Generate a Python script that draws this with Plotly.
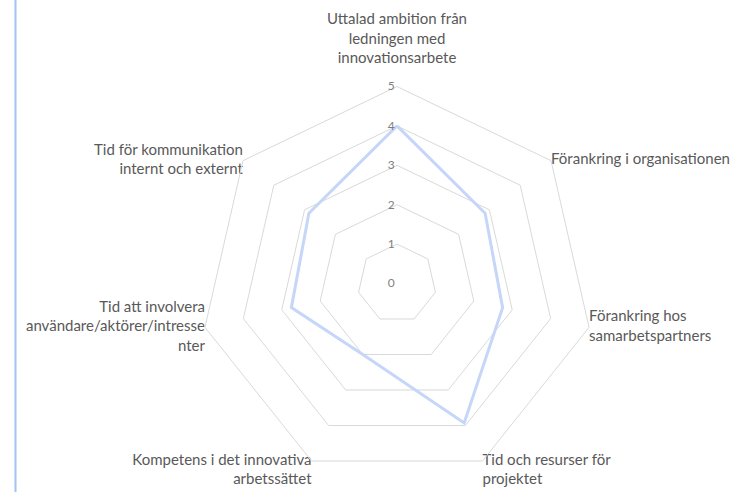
import plotly.graph_objects as go

categories = [
    "Uttalad ambition från ledningen med innovationsarbete",
    "Förankring i organisationen",
    "Förankring hos samarbetspartners",
    "Tid och resurser för projektet",
    "Kompetens i det innovativa arbetssättet",
    "Tid att involvera användare/aktörer/intressenter",
    "Tid för kommunikation internt och externt",
]
category_labels = [
    "Uttalad ambition från<br>ledningen med<br>innovationsarbete<br>\u00a0",
    "Förankring i organisationen",
    "Förankring hos<br>samarbetspartners",
    "\u00a0<br>Tid och resurser för<br>projektet",
    "\u00a0<br>Kompetens i det innovativa<br>arbetssättet",
    "Tid att involvera<br>användare/aktörer/intresse<br>nter",
    "Tid för kommunikation<br>internt och externt",
]
values = [4.0, 2.86, 2.75, 3.93, 2.0, 2.75, 2.86]
radial_ticks = [0, 1, 2, 3, 4, 5]

W, H = 747, 492
cx, cy, R = 397, 283.5, 197

label_pos = ["top center", "middle right", "middle right", "middle right",
             "middle left", "middle left", "middle left"]

fig = go.Figure()
fig.add_trace(go.Scatterpolar(
    r=values + values[:1],
    theta=categories + categories[:1],
    mode="lines",
    line=dict(color="#c5d6f8", width=3),
    hoverinfo="skip",
    showlegend=False,
))
fig.add_trace(go.Scatterpolar(
    r=[radial_ticks[-1]] * len(categories),
    theta=categories,
    mode="text",
    text=category_labels,
    textposition=label_pos,
    textfont=dict(size=15, color="#595959", family="Lato, sans-serif"),
    hoverinfo="skip",
    showlegend=False,
    cliponaxis=False,
))

fig.update_layout(
    width=W, height=H,
    margin=dict(l=0, r=0, t=0, b=0),
    paper_bgcolor="white",
    plot_bgcolor="white",
    font=dict(family="Lato, 'Open Sans', sans-serif", color="#595959"),
    polar=dict(
        domain=dict(x=[(cx - R) / W, (cx + R) / W],
                    y=[(H - cy - R) / H, (H - cy + R) / H]),
        gridshape="linear",
        bgcolor="white",
        radialaxis=dict(
            range=[0, 5], tickvals=radial_ticks, ticktext=[str(t) for t in radial_ticks],
            angle=90, tickangle=90, side="counterclockwise",
            showline=False, ticks="", gridcolor="#d9d9d9", gridwidth=1,
            tickfont=dict(size=12, color="#7f7f7f"),
        ),
        angularaxis=dict(
            rotation=90, direction="clockwise",
            showgrid=False, showline=True, linecolor="#d9d9d9", linewidth=1,
            ticks="", showticklabels=False,
        ),
    ),
    shapes=[dict(type="line", xref="paper", yref="paper",
                 x0=15.5 / W, x1=15.5 / W, y0=0, y1=1,
                 line=dict(color="#a4c2f4", width=2))],
)

fig.write_html("out.html", config={"displayModeBar": False},
               post_script="document.body.style.margin='0';")
